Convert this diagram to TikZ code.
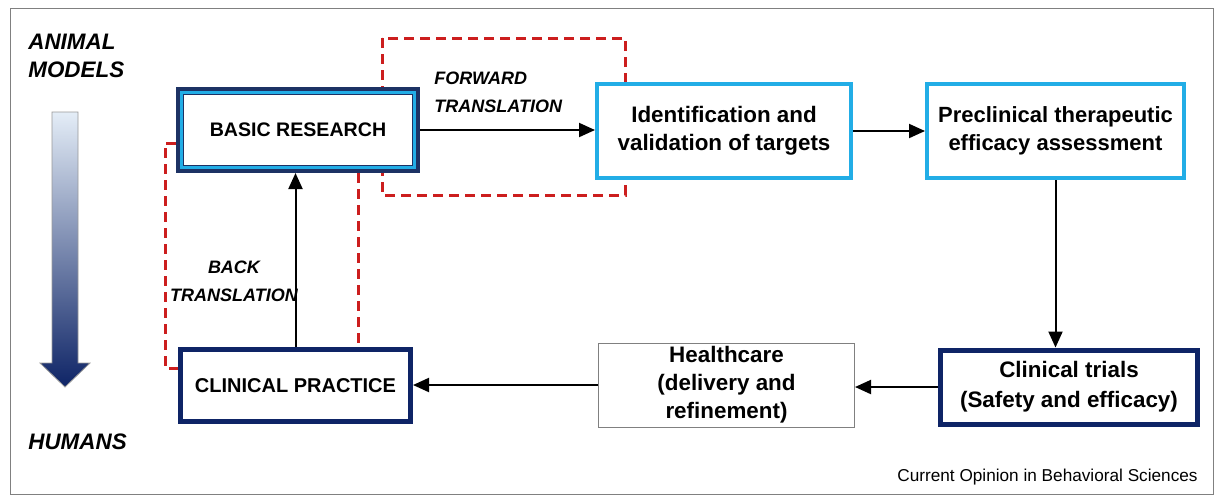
\documentclass[tikz,border=0pt]{standalone}
\usepackage{fontspec}
\setmainfont{Liberation Sans}
\usetikzlibrary{arrows.meta,backgrounds}
\definecolor{navy}{HTML}{1D3264}
\definecolor{deepnavy}{HTML}{0E2466}
\definecolor{skyblue}{HTML}{22ADE6}
\definecolor{dashred}{HTML}{CC1E1E}
\definecolor{paleblue}{HTML}{E4EDF7}
\definecolor{midblue}{HTML}{6F86AE}

\begin{document}
\begin{tikzpicture}[x=0.5pt,y=-0.5pt,
    flow/.style={line width=1pt,-{Triangle[length=8pt,width=7pt]}},
    loopline/.style={dashred,line width=1.5pt,dash pattern=on 5pt off 3pt},
    box/.style={fill=white,align=center,inner sep=0pt,font=\bfseries\fontsize{11.2}{14}\selectfont},
    tag/.style={align=left,inner sep=0pt,font=\bfseries\itshape\fontsize{9}{14}\selectfont}]
  \useasboundingbox (0,0) rectangle (1215,495);
  \draw[gray,line width=0.5pt] (10,8) rectangle (1213,494);

  % animal to human scale
  \node[tag,anchor=west,font=\bfseries\itshape\fontsize{11.2}{14}\selectfont] (animal) at (28,56) {ANIMAL\\MODELS};
  \node[tag,anchor=west,font=\bfseries\itshape\fontsize{11.2}{14}\selectfont] (humans) at (28,442) {HUMANS};
  \shade[top color=paleblue,middle color=midblue,bottom color=deepnavy,draw=gray!80,line width=0.4pt]
    (52,112) -- (78,112) -- (78,363) -- (90,363) -- (65,387) -- (40,363) -- (52,363) -- cycle;

  % boxes
  \node[box,draw=navy,line width=4pt,minimum width=118pt,minimum height=39pt,
    font=\bfseries\fontsize{9.8}{12}\selectfont] (basic) at (298,130) {BASIC RESEARCH};
  \draw[skyblue,line width=1.5pt] ([shift={(2.75pt,-2.75pt)}]basic.north west) rectangle ([shift={(-2.75pt,2.75pt)}]basic.south east);
  \node[box,draw=skyblue,line width=2pt,minimum width=127pt,minimum height=47pt] (ident) at (724,131) {Identification and\\validation of targets};
  \node[box,draw=skyblue,line width=2pt,minimum width=128.5pt,minimum height=47pt,
    font=\bfseries\fontsize{11}{14}\selectfont] (precl) at (1055.5,131) {Preclinical therapeutic\\efficacy assessment};
  \node[box,draw=deepnavy,line width=2.5pt,minimum width=128.5pt,minimum height=37pt,
    font=\bfseries\fontsize{11.2}{15}\selectfont] (trials) at (1069,387) {Clinical trials\\(Safety and efficacy)};
  \node[box,draw=gray,line width=0.5pt,minimum width=128pt,minimum height=42pt] (health) at (726.5,385) {Healthcare\\(delivery and\\refinement)};
  \node[box,draw=deepnavy,line width=2.5pt,minimum width=115pt,minimum height=36pt,
    font=\bfseries\fontsize{10}{12}\selectfont] (practice) at (295.5,385.5) {CLINICAL PRACTICE};

  % translation loops
  \begin{scope}[on background layer]
    \draw[loopline] (382,38) rectangle (625,195);
    \draw[loopline] (176,143) -- (165,143) -- (165,368) -- (178,368);
    \draw[loopline] (358,173) -- (358,347);
  \end{scope}
  \node[tag,anchor=west] (fwd) at (434,92) {FORWARD\\TRANSLATION};
  \node[tag,align=center] (back) at (234,281) {BACK\\TRANSLATION};

  % arrows
  \draw[flow] (basic.east) -- (basic.east -| ident.west);
  \draw[flow] (ident.east) -- (precl.west);
  \draw[flow] (precl.south) -- (precl.south |- trials.north);
  \draw[flow] (trials.west) -- (trials.west -| health.east);
  \draw[flow] (health.west) -- (health.west -| practice.east);
  \draw[flow] (practice.north) -- (practice.north |- basic.south);

  \node[anchor=east,inner sep=0pt,font=\fontsize{8.6}{10}\selectfont] (source) at (1198,477) {Current Opinion in Behavioral Sciences};
\end{tikzpicture}
\end{document}
